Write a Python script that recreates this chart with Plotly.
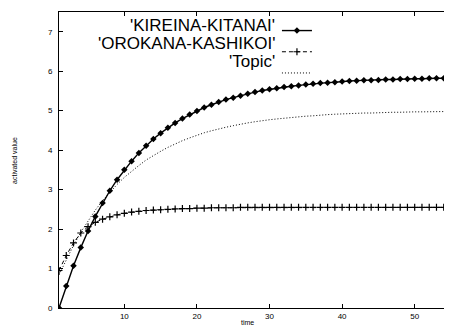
import plotly.graph_objects as go

time = list(range(1, 56))

kireina_kitanai = [
    0.00, 0.56, 1.07, 1.53, 1.95, 2.32, 2.66, 2.97, 3.25, 3.50,
    3.72, 3.93, 4.11, 4.28, 4.43, 4.57, 4.69, 4.80, 4.90, 4.99,
    5.08, 5.15, 5.22, 5.28, 5.33, 5.38, 5.43, 5.47, 5.51, 5.54,
    5.57, 5.60, 5.62, 5.64, 5.66, 5.68, 5.70, 5.71, 5.72, 5.74,
    5.75, 5.76, 5.77, 5.77, 5.78, 5.79, 5.79, 5.80, 5.80, 5.81,
    5.81, 5.82, 5.82, 5.82, 5.83,
]

orokana_kashikoi = [
    0.95, 1.33, 1.65, 1.90, 2.06, 2.17, 2.25, 2.31, 2.36, 2.40,
    2.43, 2.45, 2.47, 2.48, 2.49, 2.50, 2.51, 2.52, 2.52, 2.53,
    2.53, 2.54, 2.54, 2.54, 2.54, 2.55, 2.55, 2.55, 2.55, 2.55,
    2.55, 2.55, 2.55, 2.55, 2.55, 2.55, 2.55, 2.55, 2.55, 2.55,
    2.55, 2.55, 2.55, 2.55, 2.55, 2.55, 2.55, 2.55, 2.55, 2.55,
    2.55, 2.55, 2.55, 2.55, 2.55,
]

topic = [
    0.84, 1.23, 1.59, 1.92, 2.21, 2.48, 2.72, 2.93, 3.13, 3.31,
    3.47, 3.61, 3.75, 3.87, 3.97, 4.07, 4.16, 4.24, 4.31, 4.38,
    4.44, 4.49, 4.54, 4.58, 4.62, 4.66, 4.69, 4.72, 4.75, 4.77,
    4.79, 4.81, 4.83, 4.85, 4.86, 4.87, 4.89, 4.90, 4.91, 4.92,
    4.92, 4.93, 4.94, 4.94, 4.95, 4.95, 4.96, 4.96, 4.97, 4.97,
    4.97, 4.97, 4.98, 4.98, 4.98,
]

series_names = ["'KIREINA-KITANAI'", "'OROKANA-KASHIKOI'", "'Topic'"]
x_ticks = [10, 20, 30, 40, 50]
y_ticks = [0, 1, 2, 3, 4, 5, 6, 7]

fig = go.Figure()
fig.add_trace(go.Scatter(
    x=time, y=kireina_kitanai, mode="lines+markers", name=" ",
    line=dict(color="black", width=1.4),
    marker=dict(symbol="diamond", size=5, color="black"),
))
fig.add_trace(go.Scatter(
    x=time, y=orokana_kashikoi, mode="lines+markers", name=" ",
    line=dict(color="black", width=1, dash="4px,3px"),
    marker=dict(symbol="cross-thin", size=5, line=dict(color="black", width=1.2)),
))
fig.add_trace(go.Scatter(
    x=time, y=topic, mode="lines", name=" ",
    line=dict(color="black", width=1, dash="1px,2px"),
))

axis_common = dict(
    showgrid=False, zeroline=False, showline=True, linecolor="black",
    linewidth=1, mirror="allticks", ticks="inside", ticklen=4,
    tickcolor="black", tickfont=dict(family="Liberation Sans, Arial", size=8, color="black"),
)

fig.update_xaxes(range=[1, 55], tickvals=x_ticks, **axis_common)
fig.update_yaxes(range=[0, 7.5], tickvals=y_ticks, ticklabelstandoff=4, **axis_common)

annotations = []
label_y = [0.956, 0.894, 0.832]
for name, yy in zip(series_names, label_y):
    annotations.append(dict(
        text=name, xref="paper", yref="paper", x=0.556, y=yy,
        xanchor="right", yanchor="middle", showarrow=False,
        font=dict(family="Liberation Sans, Arial", size=17, color="black"),
    ))
annotations.append(dict(
    text="activated value", xref="paper", yref="paper", x=-0.115, y=0.5,
    textangle=-90, xanchor="center", yanchor="middle", showarrow=False,
    font=dict(family="Liberation Sans, Arial", size=7, color="black"),
))
annotations.append(dict(
    text="time", xref="paper", yref="paper", x=0.48, y=-0.05,
    xanchor="center", yanchor="middle", showarrow=False,
    font=dict(family="Liberation Sans, Arial", size=7, color="black"),
))

# The page body adds an 8px offset, so the figure is 8px smaller and margins shifted.
fig.update_layout(
    width=444, height=321,
    margin=dict(l=51, r=1, t=4, b=21),
    paper_bgcolor="white", plot_bgcolor="white",
    showlegend=True,
    legend=dict(
        x=0.556, y=0.99, xanchor="left", yanchor="top",
        bgcolor="rgba(0,0,0,0)", font=dict(size=14),
        tracegroupgap=0, itemwidth=30,
    ),
    annotations=annotations,
)

fig.write_html("out.html")
